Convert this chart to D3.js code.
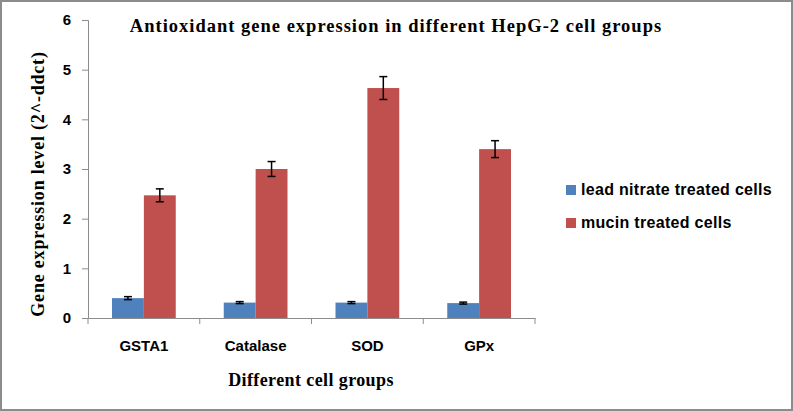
<!DOCTYPE html>
<html>
<head>
<meta charset="utf-8">
<script src="https://cdn.jsdelivr.net/npm/d3@7"></script>
<style>
  body { margin: 0; background: #fff; }
  .sans { font-family: "Liberation Sans", Arial, sans-serif; font-weight: bold; }
  .serif { font-family: "Liberation Serif", "Times New Roman", serif; font-weight: bold; }
</style>
</head>
<body>
<div id="chart"></div>
<script>
// chart data
const groups = ["GSTA1", "Catalase", "SOD", "GPx"]
const seriesNames = ["lead nitrate treated cells", "mucin treated cells"]
const leadValues = [0.40, 0.31, 0.31, 0.30]
const leadErrors = [0.03, 0.02, 0.02, 0.02]
const mucinValues = [2.47, 3.00, 4.63, 3.40]
const mucinErrors = [0.13, 0.15, 0.23, 0.17]
const yTicks = [0, 1, 2, 3, 4, 5, 6]
const colors = ["#4f81bd", "#c0504d"]

const width = 793, height = 411;
const margin = {top: 20, left: 88, right: 258, bottom: 93};

let svg = d3.select("#chart")
  .append("svg")
    .attr("width", width)
    .attr("height", height);

// outer frame
svg.append("rect")
  .attr("x", 1).attr("y", 1)
  .attr("width", width - 2).attr("height", height - 2)
  .attr("fill", "#fff")
  .attr("stroke", "#8c8c8c")
  .attr("stroke-width", 2);

let x = d3.scaleBand()
  .domain(groups)
  .range([margin.left, width - margin.right]);

// two bars per group, 24px gap each side
let x1 = d3.scaleBand()
  .domain([0, 1])
  .range([24, x.bandwidth() - 24]);

let y = d3.scaleLinear()
  .domain([0, 6])
  .range([height - margin.bottom, margin.top]);

let rows = groups.map((g, i) => ({
  group: g,
  bars: [
    {s: 0, v: leadValues[i], e: leadErrors[i]},
    {s: 1, v: mucinValues[i], e: mucinErrors[i]}
  ]
}));

// y axis
let yAxis = svg.append("g")
  .attr("transform", `translate(${margin.left},0)`)
  .call(d3.axisLeft(y).tickValues(yTicks).tickSize(6).tickPadding(11).tickFormat(d3.format("d")));
yAxis.select(".domain").attr("stroke", "#8c8c8c");
yAxis.selectAll(".tick line").attr("stroke", "#8c8c8c");
yAxis.selectAll("text")
  .attr("class", "sans")
  .attr("font-size", 15)
  .attr("fill", "#000");

// x axis
let xAxis = svg.append("g")
  .attr("transform", `translate(0,${y(0)})`)
  .call(d3.axisBottom(x).tickSize(0).tickPadding(22));
xAxis.select(".domain").attr("stroke", "#8c8c8c");
xAxis.selectAll("text")
  .attr("class", "sans")
  .attr("font-size", 15)
  .attr("fill", "#000");

// category boundary ticks
let bounds = groups.map(g => x(g)).concat([x.range()[1]]);
svg.selectAll(".btick")
  .data(bounds)
  .enter()
  .append("line")
    .attr("x1", d => d).attr("x2", d => d)
    .attr("y1", y(0)).attr("y2", y(0) + 6)
    .attr("stroke", "#8c8c8c");

// bars
let grp = svg.selectAll(".grp")
  .data(rows)
  .enter()
  .append("g")
    .attr("transform", d => `translate(${x(d.group)},0)`);

grp.selectAll("rect")
  .data(d => d.bars)
  .enter()
  .append("rect")
    .attr("x", d => x1(d.s))
    .attr("y", d => y(d.v))
    .attr("width", x1.bandwidth())
    .attr("height", d => y(0) - y(d.v))
    .attr("fill", d => colors[d.s]);

// error bars
let err = grp.selectAll(".err")
  .data(d => d.bars)
  .enter()
  .append("g")
    .attr("stroke", "#000")
    .attr("stroke-width", 1.5);
err.append("line")
  .attr("x1", d => x1(d.s) + x1.bandwidth() / 2)
  .attr("x2", d => x1(d.s) + x1.bandwidth() / 2)
  .attr("y1", d => y(d.v + d.e))
  .attr("y2", d => y(d.v - d.e));
err.selectAll(".cap")
  .data(d => [{b: d, v: d.v + d.e}, {b: d, v: d.v - d.e}])
  .enter()
  .append("line")
    .attr("x1", d => x1(d.b.s) + x1.bandwidth() / 2 - 4)
    .attr("x2", d => x1(d.b.s) + x1.bandwidth() / 2 + 4)
    .attr("y1", d => y(d.v))
    .attr("y2", d => y(d.v));

// title
svg.append("text")
  .attr("class", "serif")
  .attr("x", 396).attr("y", 32)
  .attr("text-anchor", "middle")
  .attr("font-size", 18.5)
  .attr("letter-spacing", 1)
  .text("Antioxidant gene expression in different HepG-2 cell groups");

// axis titles
svg.append("text")
  .attr("class", "serif")
  .attr("transform", "translate(44,184) rotate(-90)")
  .attr("text-anchor", "middle")
  .attr("font-size", 18)
  .attr("letter-spacing", 0.8)
  .text("Gene expression level (2^-ddct)");

svg.append("text")
  .attr("class", "serif")
  .attr("x", 311).attr("y", 386)
  .attr("text-anchor", "middle")
  .attr("font-size", 18)
  .attr("letter-spacing", 0.4)
  .text("Different cell groups");

// legend
let legend = svg.selectAll(".leg")
  .data(seriesNames)
  .enter()
  .append("g")
    .attr("transform", (d, i) => `translate(566,${185 + i * 33})`);
legend.append("rect")
  .attr("width", 10).attr("height", 10)
  .attr("fill", (d, i) => colors[i]);
legend.append("text")
  .attr("class", "sans")
  .attr("x", 15).attr("y", 10)
  .attr("font-size", 16)
  .attr("letter-spacing", 0.3)
  .text(d => d);
</script>
</body>
</html>
